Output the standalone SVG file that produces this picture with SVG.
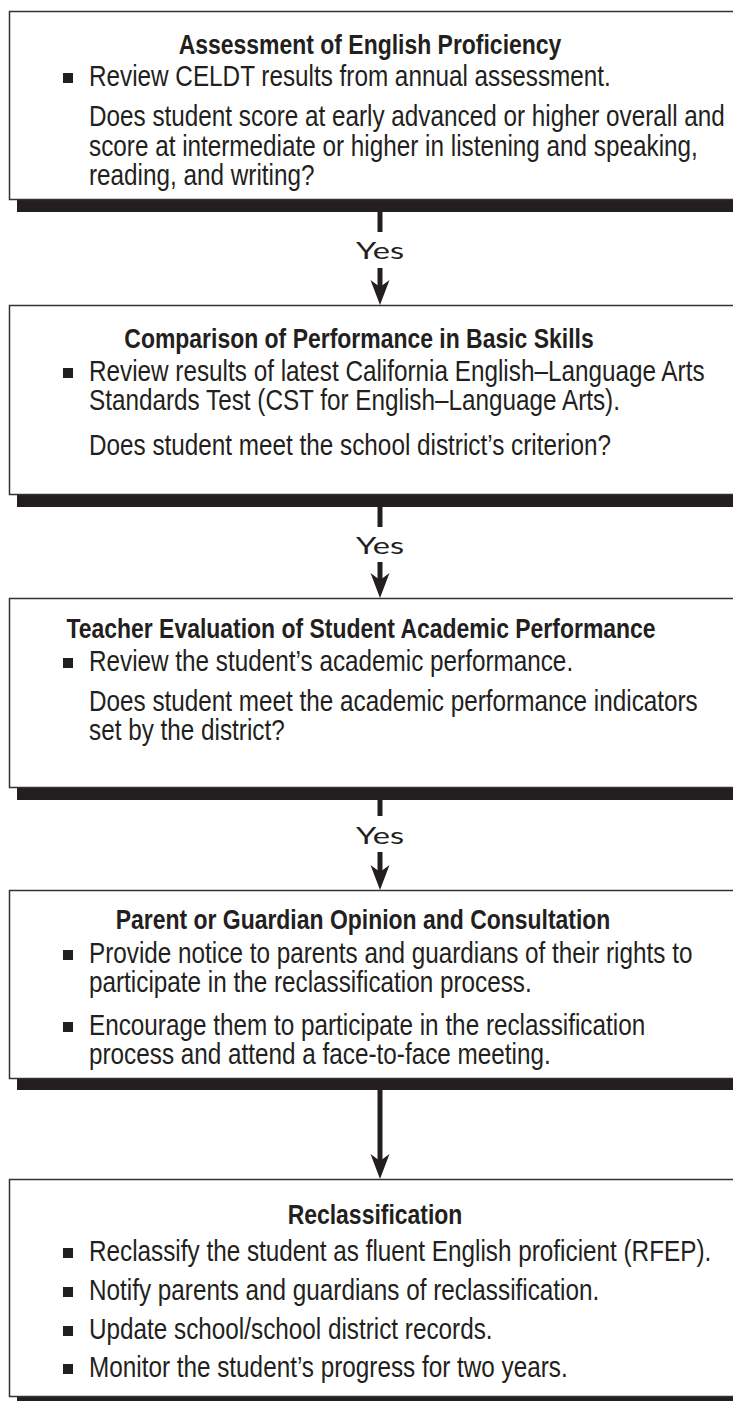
<svg xmlns="http://www.w3.org/2000/svg" width="733" height="1401" viewBox="0 0 733 1401">
<defs>
<style>
.box{fill:#fff;stroke:#333;stroke-width:1.5}
.shadow{fill:#231f20}
.t{font-family:"Liberation Sans",Arial,sans-serif;font-size:30px;fill:#231f20}
.h{font-weight:bold;font-size:28px;text-anchor:middle}
.sq{fill:#231f20}
.yes{font-family:Lato,"DejaVu Sans",sans-serif;font-weight:400;font-size:23px;fill:#231f20;text-anchor:middle}
.ln{stroke:#231f20;stroke-width:5;fill:none}
.head{fill:#231f20}
</style>
</defs>

<g id="node1">
<rect class="shadow" x="17" y="23" width="740" height="189"/>
<rect class="box" x="9.5" y="11.5" width="740" height="188"/>
<text class="t h" transform="translate(370 54) scale(0.82 1)">Assessment of English Proficiency</text>
<rect class="sq" x="63" y="73" width="10" height="10"/>
<text class="t" transform="translate(89 86) scale(0.81 1)">Review CELDT results from annual assessment.</text>
<text class="t" transform="translate(89 126) scale(0.81 1)">Does student score at early advanced or higher overall and</text>
<text class="t" transform="translate(89 156) scale(0.81 1)">score at intermediate or higher in listening and speaking,</text>
<text class="t" transform="translate(89 185) scale(0.81 1)">reading, and writing?</text>
</g>

<g id="node2">
<rect class="shadow" x="17" y="317" width="740" height="190"/>
<rect class="box" x="9.5" y="305.5" width="740" height="189"/>
<text class="t h" transform="translate(359 348) scale(0.82 1)">Comparison of Performance in Basic Skills</text>
<rect class="sq" x="63" y="368" width="10" height="10"/>
<text class="t" transform="translate(89 381) scale(0.81 1)">Review results of latest California English–Language Arts</text>
<text class="t" transform="translate(89 410) scale(0.81 1)">Standards Test (CST for English–Language Arts).</text>
<text class="t" transform="translate(89 455) scale(0.81 1)">Does student meet the school district’s criterion?</text>
</g>

<g id="node3">
<rect class="shadow" x="17" y="610" width="740" height="190"/>
<rect class="box" x="9.5" y="598.5" width="740" height="189"/>
<text class="t h" transform="translate(361 638) scale(0.82 1)">Teacher Evaluation of Student Academic Performance</text>
<rect class="sq" x="63" y="658" width="10" height="10"/>
<text class="t" transform="translate(89 671) scale(0.81 1)">Review the student’s academic performance.</text>
<text class="t" transform="translate(89 711) scale(0.81 1)">Does student meet the academic performance indicators</text>
<text class="t" transform="translate(89 740) scale(0.81 1)">set by the district?</text>
</g>

<g id="node4">
<rect class="shadow" x="17" y="902" width="740" height="188"/>
<rect class="box" x="9.5" y="890.5" width="740" height="188"/>
<text class="t h" transform="translate(363 929) scale(0.82 1)">Parent or Guardian Opinion and Consultation</text>
<rect class="sq" x="63" y="950" width="10" height="10"/>
<text class="t" transform="translate(89 963) scale(0.81 1)">Provide notice to parents and guardians of their rights to</text>
<text class="t" transform="translate(89 992) scale(0.81 1)">participate in the reclassification process.</text>
<rect class="sq" x="63" y="1022" width="10" height="10"/>
<text class="t" transform="translate(89 1035) scale(0.81 1)">Encourage them to participate in the reclassification</text>
<text class="t" transform="translate(89 1064) scale(0.81 1)">process and attend a face-to-face meeting.</text>
</g>

<g id="node5">
<rect class="shadow" x="17" y="1191" width="740" height="220"/>
<rect class="box" x="9.5" y="1179.5" width="740" height="217"/>
<text class="t h" transform="translate(375 1224) scale(0.82 1)">Reclassification</text>
<rect class="sq" x="63" y="1248" width="10" height="10"/>
<text class="t" transform="translate(89 1261) scale(0.81 1)">Reclassify the student as fluent English proficient (RFEP).</text>
<rect class="sq" x="63" y="1287" width="10" height="10"/>
<text class="t" transform="translate(89 1300) scale(0.81 1)">Notify parents and guardians of reclassification.</text>
<rect class="sq" x="63" y="1326" width="10" height="10"/>
<text class="t" transform="translate(89 1339) scale(0.81 1)">Update school/school district records.</text>
<rect class="sq" x="63" y="1364" width="10" height="10"/>
<text class="t" transform="translate(89 1377) scale(0.81 1)">Monitor the student’s progress for two years.</text>
</g>

<g id="connectors">
<line class="ln" x1="380" y1="212" x2="380" y2="232"/>
<text class="yes" x="380" y="259" textLength="48" lengthAdjust="spacingAndGlyphs">Yes</text>
<line class="ln" x1="380" y1="268" x2="380" y2="287"/>
<path class="head" d="M370.5,280 L380,287 L389.5,280 L380,305 Z"/>
<line class="ln" x1="380" y1="507" x2="380" y2="527"/>
<text class="yes" x="380" y="554" textLength="48" lengthAdjust="spacingAndGlyphs">Yes</text>
<line class="ln" x1="380" y1="562" x2="380" y2="580"/>
<path class="head" d="M370.5,573 L380,580 L389.5,573 L380,598 Z"/>
<line class="ln" x1="380" y1="800" x2="380" y2="816"/>
<text class="yes" x="380" y="844" textLength="48" lengthAdjust="spacingAndGlyphs">Yes</text>
<line class="ln" x1="380" y1="852" x2="380" y2="872"/>
<path class="head" d="M370.5,865 L380,872 L389.5,865 L380,890 Z"/>
<line class="ln" x1="380" y1="1090" x2="380" y2="1161"/>
<path class="head" d="M370.5,1154 L380,1161 L389.5,1154 L380,1179 Z"/>
</g>
</svg>
